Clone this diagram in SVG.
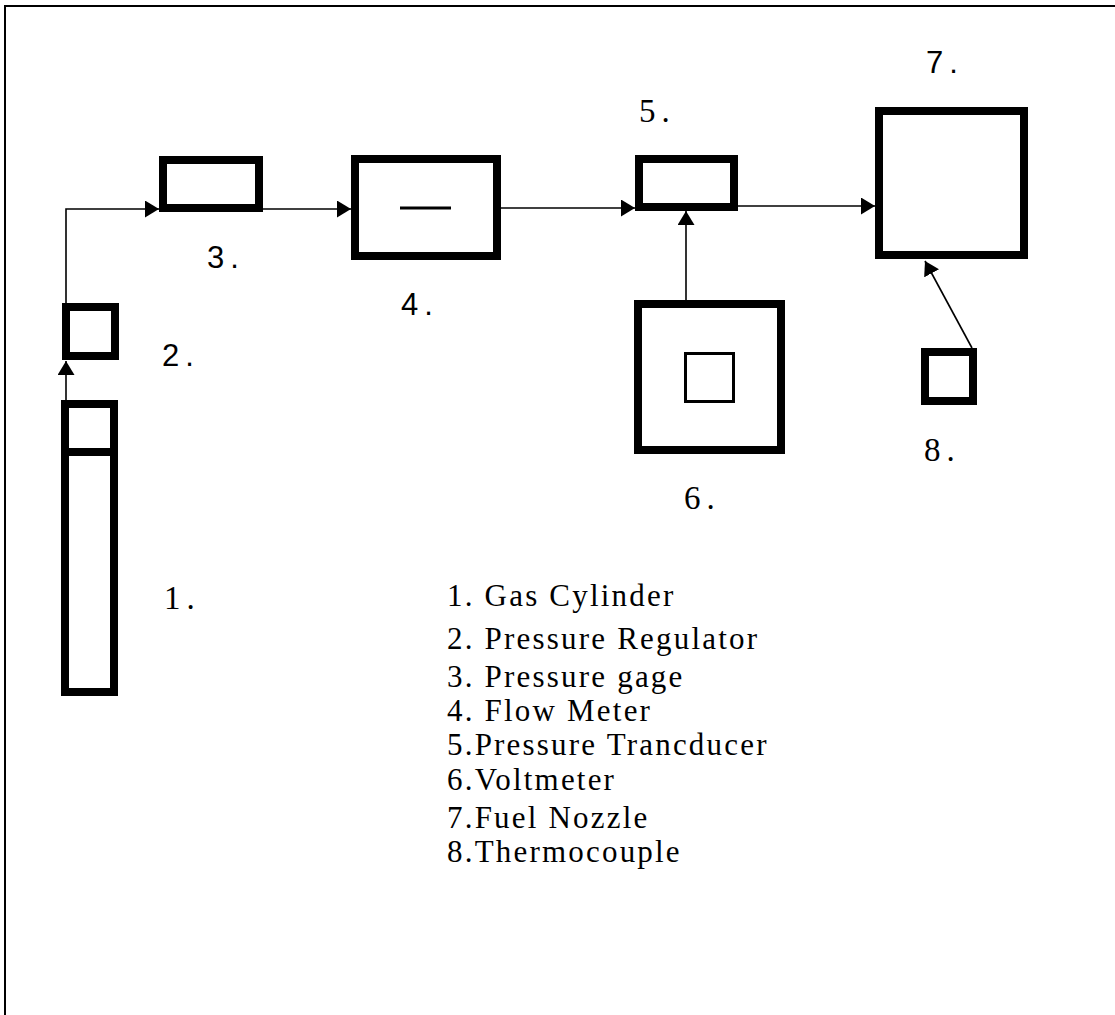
<svg xmlns="http://www.w3.org/2000/svg" width="1115" height="1015" viewBox="0 0 1115 1015">
<style>
.box{fill:#fff;stroke:#000;stroke-width:8}
.thin{fill:#fff;stroke:#000;stroke-width:3}
.conn{fill:none;stroke:#000;stroke-width:1.6}
.num{font-family:"Liberation Sans",Arial,sans-serif;font-size:31px;letter-spacing:6px;fill:#000}
.nums{font-family:"Liberation Serif","Times New Roman",serif;font-size:33px;letter-spacing:6px;fill:#000}
.leg{font-family:"Liberation Serif","Times New Roman",serif;font-size:31px;letter-spacing:2.2px;fill:#000}
</style>
<defs>
<marker id="ah" markerWidth="14" markerHeight="17" refX="14" refY="8.5" orient="auto" markerUnits="userSpaceOnUse">
<path d="M0,0 L14,8.5 L0,17 z" fill="#000"/>
</marker>
</defs>
<rect width="1115" height="1015" fill="#fff"/>
<path d="M5,1015 V6 H1115" fill="none" stroke="#000" stroke-width="2"/>

<g id="connectors">
<path class="conn" d="M66,400 V361" marker-end="url(#ah)"/>
<path class="conn" d="M66,303 V209 H159" marker-end="url(#ah)"/>
<path class="conn" d="M263,209 H351" marker-end="url(#ah)"/>
<path class="conn" d="M501,208 H635" marker-end="url(#ah)"/>
<path class="conn" d="M738,206 H875" marker-end="url(#ah)"/>
<path class="conn" d="M686,300 V211" marker-end="url(#ah)"/>
<path class="conn" d="M972,348 L925,261" marker-end="url(#ah)"/>
</g>

<g id="node1">
<rect class="box" x="65" y="404" width="49" height="288"/>
<line x1="65" y1="452" x2="114" y2="452" stroke="#000" stroke-width="8"/>
<text class="nums" x="164" y="609">1.</text>
</g>
<g id="node2">
<rect class="box" x="66" y="307" width="49" height="49"/>
<text class="num" x="162" y="366">2.</text>
</g>
<g id="node3">
<rect class="box" x="163" y="160" width="96" height="48"/>
<text class="num" x="207" y="268">3.</text>
</g>
<g id="node4">
<rect class="box" x="355" y="159" width="142" height="97"/>
<line x1="400" y1="208" x2="451" y2="208" stroke="#000" stroke-width="3"/>
<text class="num" x="401" y="315">4.</text>
</g>
<g id="node5">
<rect class="box" x="639" y="159" width="95" height="48"/>
<text class="nums" x="639" y="122">5.</text>
</g>
<g id="node6">
<rect class="box" x="638" y="304" width="143" height="146"/>
<rect class="thin" x="685.5" y="353.5" width="48" height="48"/>
<text class="nums" x="684" y="509">6.</text>
</g>
<g id="node7">
<rect class="box" x="879" y="111" width="145" height="144"/>
<text class="num" x="926" y="73">7.</text>
</g>
<g id="node8">
<rect class="box" x="925" y="352" width="48" height="49"/>
<text class="nums" x="924" y="461">8.</text>
</g>

<g id="legend">
<text class="leg" x="447" y="606">1. Gas Cylinder</text>
<text class="leg" x="447" y="649">2. Pressure Regulator</text>
<text class="leg" x="447" y="687">3. Pressure gage</text>
<text class="leg" x="447" y="721">4. Flow Meter</text>
<text class="leg" x="447" y="755">5.Pressure Trancducer</text>
<text class="leg" x="447" y="790">6.Voltmeter</text>
<text class="leg" x="447" y="828">7.Fuel Nozzle</text>
<text class="leg" x="447" y="862">8.Thermocouple</text>
</g>
</svg>
